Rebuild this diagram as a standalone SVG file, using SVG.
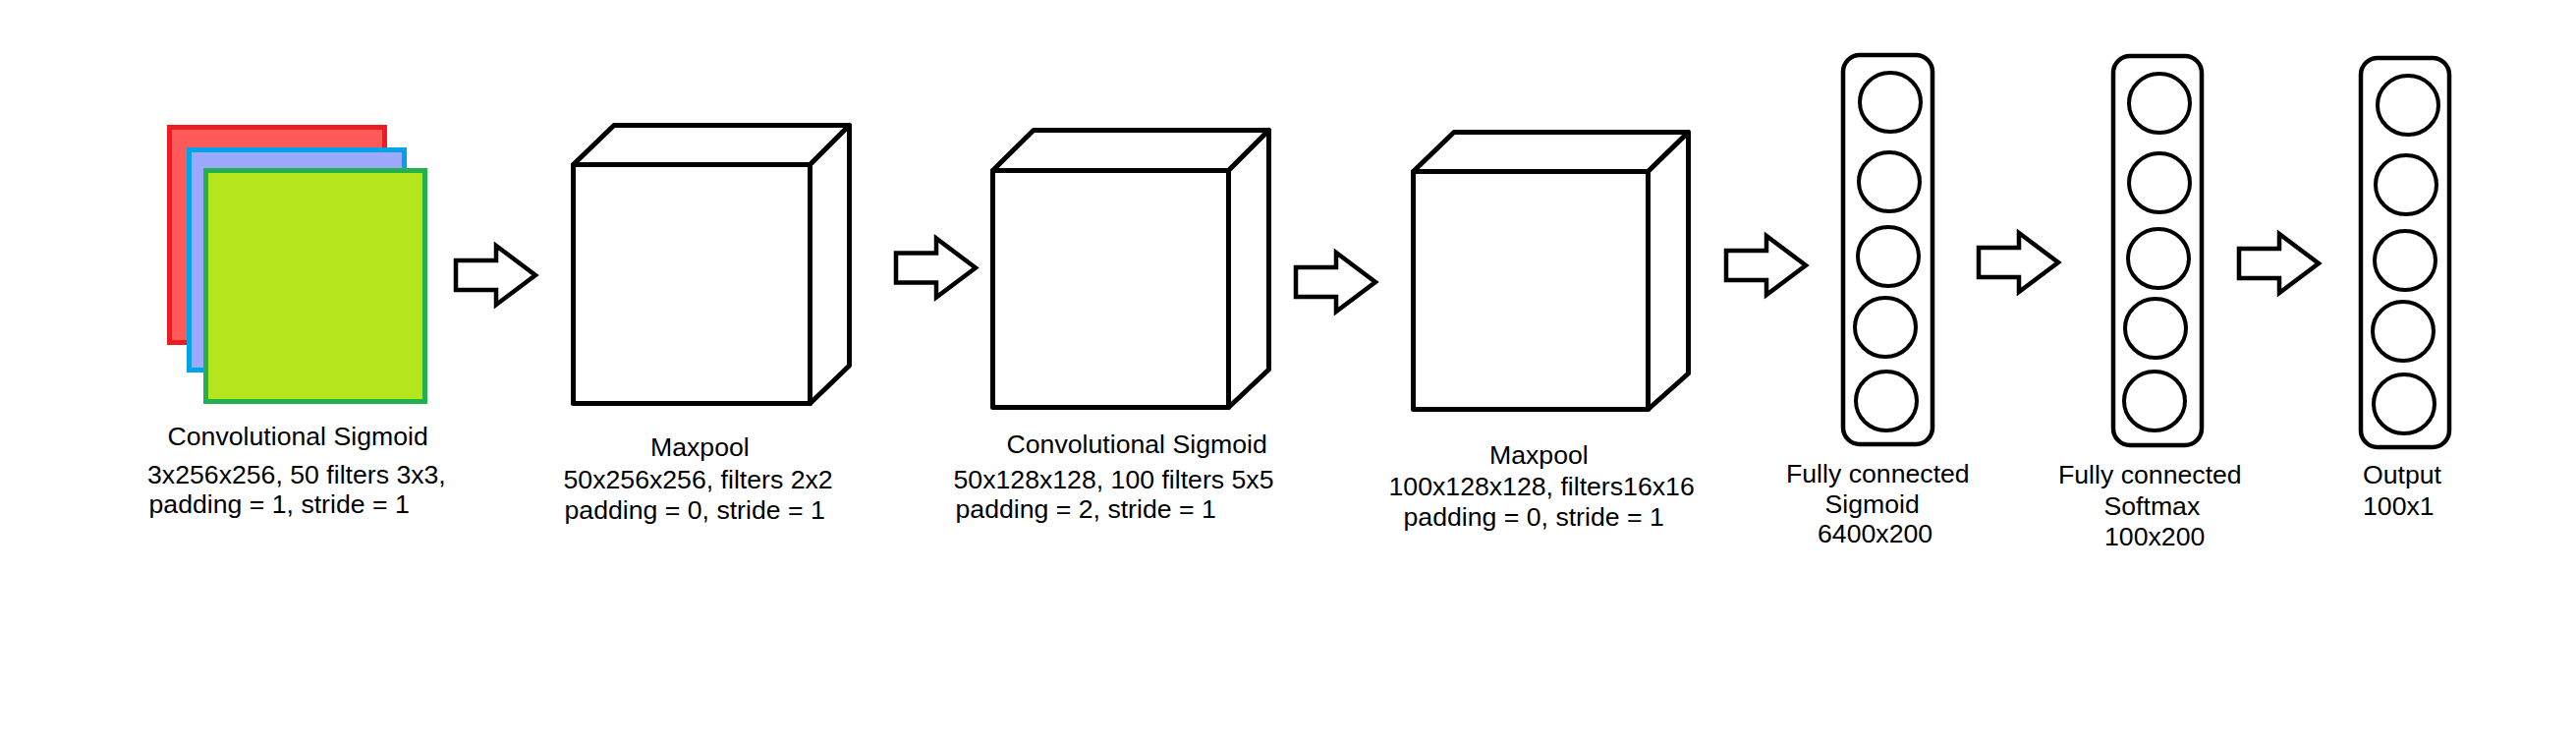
<svg xmlns="http://www.w3.org/2000/svg" width="2622" height="758" viewBox="0 0 2622 758">
<style>
  .lbl { font-family: "Liberation Sans", Arial, sans-serif; font-size: 26.67px; fill: #000; }
  .cube { fill: #fff; stroke: #000; stroke-width: 5; stroke-linejoin: round; }
  .fc { fill: #fff; stroke: #000; stroke-width: 4.5; }
  .neuron { fill: #fff; stroke: #000; stroke-width: 4; }
  .arrow { fill: #fff; stroke: #000; stroke-width: 4.5; stroke-linejoin: miter; }
</style>
<defs>
  <path id="blockArrow" d="M2,-15 H43 V-30 L83,0 L43,30 V15 H2 Z"/>
</defs>
<rect width="2622" height="758" fill="#fff"/>

<g id="input-conv1">
  <rect x="172.5" y="129.5" width="219" height="219" fill="#FF5A5A" stroke="#ED1C24" stroke-width="5"/>
  <rect x="192.5" y="152.5" width="219" height="224" fill="#9DA8FF" stroke="#00A2E8" stroke-width="5"/>
  <rect x="209.5" y="173.5" width="223" height="235" fill="#B5E61D" stroke="#22B14C" stroke-width="5"/>
  <text class="lbl" x="170.5" y="453">Convolutional Sigmoid</text>
  <text class="lbl" x="150" y="492">3x256x256, 50 filters 3x3,</text>
  <text class="lbl" x="151.5" y="522">padding = 1, stride = 1</text>
</g>

<g id="maxpool1">
  <path class="cube" d="M583.5,167.5 L625,127.5 H864.5 L824.5,167.5 Z"/>
  <path class="cube" d="M824.5,167.5 L864.5,127.5 V372 L824.5,410.5 Z"/>
  <rect class="cube" x="583.5" y="167.5" width="241" height="243" stroke-linejoin="miter"/>
  <text class="lbl" x="662" y="464">Maxpool</text>
  <text class="lbl" x="573.5" y="497">50x256x256, filters 2x2</text>
  <text class="lbl" x="574.5" y="528">padding = 0, stride = 1</text>
</g>

<g id="conv2">
  <path class="cube" d="M1010.5,173.5 L1052,132.5 H1291.5 L1250.5,173.5 Z"/>
  <path class="cube" d="M1250.5,173.5 L1291.5,132.5 V376 L1250.5,414.5 Z"/>
  <rect class="cube" x="1010.5" y="173.5" width="240" height="241" stroke-linejoin="miter"/>
  <text class="lbl" x="1024.5" y="461">Convolutional Sigmoid</text>
  <text class="lbl" x="970.5" y="497">50x128x128, 100 filters 5x5</text>
  <text class="lbl" x="972.5" y="527">padding = 2, stride = 1</text>
</g>

<g id="maxpool2">
  <path class="cube" d="M1438.5,174.5 L1480,134.5 H1718.5 L1677.5,174.5 Z"/>
  <path class="cube" d="M1677.5,174.5 L1718.5,134.5 V380 L1677.5,416.5 Z"/>
  <rect class="cube" x="1438.5" y="174.5" width="239" height="242" stroke-linejoin="miter"/>
  <text class="lbl" x="1516" y="472">Maxpool</text>
  <text class="lbl" x="1413.5" y="504">100x128x128, filters16x16</text>
  <text class="lbl" x="1428.5" y="535">padding = 0, stride = 1</text>
</g>

<g id="fc1">
  <rect class="fc" x="1876" y="56" width="91" height="396" rx="17" ry="17"/>
  <ellipse class="neuron" cx="1924" cy="104" rx="31" ry="30"/>
  <ellipse class="neuron" cx="1923" cy="185" rx="31" ry="30"/>
  <ellipse class="neuron" cx="1922" cy="261" rx="31" ry="30"/>
  <ellipse class="neuron" cx="1919" cy="333" rx="31" ry="30"/>
  <ellipse class="neuron" cx="1920" cy="408" rx="31" ry="30"/>
  <text class="lbl" x="1818" y="491">Fully connected</text>
  <text class="lbl" x="1857.5" y="522">Sigmoid</text>
  <text class="lbl" x="1850" y="552">6400x200</text>
</g>

<g id="fc2">
  <rect class="fc" x="2151" y="57" width="90" height="396" rx="17" ry="17"/>
  <ellipse class="neuron" cx="2198" cy="105" rx="31" ry="30"/>
  <ellipse class="neuron" cx="2198" cy="186" rx="31" ry="30"/>
  <ellipse class="neuron" cx="2197" cy="263" rx="31" ry="30"/>
  <ellipse class="neuron" cx="2194" cy="334" rx="31" ry="30"/>
  <ellipse class="neuron" cx="2193" cy="408" rx="31" ry="30"/>
  <text class="lbl" x="2095" y="492">Fully connected</text>
  <text class="lbl" x="2141.5" y="524">Softmax</text>
  <text class="lbl" x="2142" y="555">100x200</text>
</g>

<g id="output">
  <rect class="fc" x="2403" y="59" width="90" height="396" rx="17" ry="17"/>
  <ellipse class="neuron" cx="2451" cy="107" rx="31" ry="30"/>
  <ellipse class="neuron" cx="2449" cy="188" rx="31" ry="30"/>
  <ellipse class="neuron" cx="2448" cy="265" rx="31" ry="30"/>
  <ellipse class="neuron" cx="2446" cy="337" rx="31" ry="30"/>
  <ellipse class="neuron" cx="2447" cy="411" rx="31" ry="30"/>
  <text class="lbl" x="2405" y="492">Output</text>
  <text class="lbl" x="2405" y="524">100x1</text>
</g>

<g id="connectors">
  <use href="#blockArrow" class="arrow" transform="translate(462,280)"/>
  <use href="#blockArrow" class="arrow" transform="translate(910,272.5)"/>
  <use href="#blockArrow" class="arrow" transform="translate(1317,287)"/>
  <use href="#blockArrow" class="arrow" transform="translate(1755,270)"/>
  <use href="#blockArrow" class="arrow" transform="translate(2012,267)"/>
  <use href="#blockArrow" class="arrow" transform="translate(2277,268)"/>
</g>
</svg>
